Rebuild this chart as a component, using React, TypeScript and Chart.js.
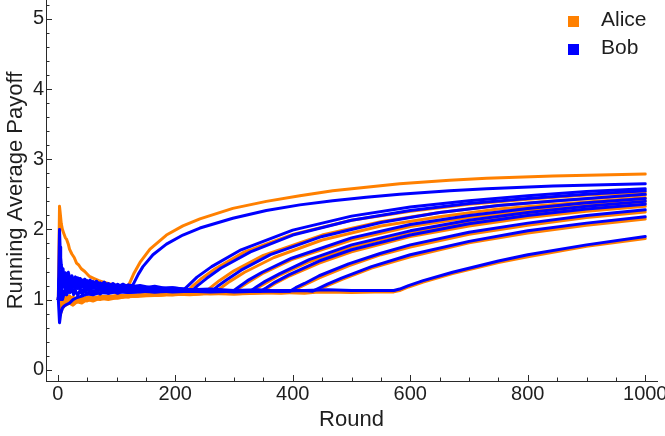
import React, { useEffect, useRef } from "react";
import { Chart, registerables } from "chart.js";

Chart.register(...registerables);

type Pt = [number, number];

// ---------- data (round, running average payoff) ----------
const seriesNames = ["Alice", "Bob"];
const xTickValues = [0, 200, 400, 600, 800, 1000];
const yTickValues = [0, 1, 2, 3, 4, 5];

const alice1: Pt[] = [[1,1.0],[3,2.33],[4,2.25],[6,2.08],[8,2.0],[10,1.95],[13,1.88],[15,1.86],[18,1.79],[20,1.72],[24,1.65],[28,1.6],[32,1.52],[36,1.49],[40,1.44],[46,1.4],[54,1.33],[62,1.3],[70,1.27],[78,1.25],[86,1.23],[95,1.21],[105,1.2],[113,1.19],[121,1.21],[130,1.38],[140,1.53],[157,1.72],[185,1.92],[213,2.05],[242,2.15],[298,2.3],[355,2.4],[412,2.48],[468,2.55],[525,2.6],[582,2.65],[667,2.7],[730,2.73],[843,2.76],[1000,2.79]];
const alice2: Pt[] = [[1,1.0],[3,1.0],[5,1.0],[8,0.88],[11,0.91],[15,0.93],[20,0.95],[26,1.0],[33,0.97],[41,1.0],[50,1.02],[60,1.0],[72,1.03],[86,1.02],[102,1.05],[120,1.04],[140,1.06],[165,1.07],[195,1.09],[218,1.1],[228,1.18],[243,1.29],[268,1.44],[318,1.68],[400,1.93],[500,2.13],[600,2.26],[700,2.36],[800,2.43],[900,2.49],[1000,2.53]];
const alice3: Pt[] = [[1,1.0],[3,1.0],[5,1.0],[8,1.12],[11,1.0],[15,0.93],[20,0.95],[26,0.92],[33,0.97],[41,0.95],[50,1.0],[60,0.98],[72,1.02],[86,1.0],[102,1.03],[120,1.04],[140,1.05],[165,1.07],[195,1.08],[225,1.09],[250,1.1],[260,1.17],[275,1.27],[300,1.41],[350,1.63],[450,1.92],[550,2.11],[650,2.24],[750,2.34],[850,2.41],[1000,2.49]];
const alice4: Pt[] = [[1,1.0],[3,1.0],[5,1.2],[8,1.0],[11,1.09],[15,1.0],[20,1.05],[26,0.96],[33,1.0],[41,0.98],[50,1.02],[60,1.0],[72,1.04],[86,1.03],[102,1.06],[120,1.05],[140,1.06],[165,1.08],[195,1.07],[225,1.09],[268,1.1],[278,1.17],[293,1.26],[318,1.39],[368,1.6],[450,1.85],[550,2.05],[650,2.18],[750,2.29],[850,2.36],[1000,2.45]];
const alice5: Pt[] = [[1,1.0],[3,1.33],[5,1.0],[8,1.12],[11,1.0],[15,1.07],[20,1.0],[26,1.04],[33,0.97],[41,1.02],[50,1.0],[60,1.03],[72,1.02],[86,1.05],[102,1.04],[120,1.06],[140,1.07],[165,1.06],[195,1.08],[225,1.08],[260,1.09],[298,1.1],[308,1.16],[323,1.24],[348,1.37],[398,1.57],[500,1.85],[600,2.04],[700,2.17],[800,2.27],[900,2.35],[1000,2.41]];
const alice6: Pt[] = [[1,1.0],[3,1.0],[5,1.0],[8,0.88],[11,1.0],[15,0.93],[20,1.0],[26,0.96],[33,1.03],[41,0.98],[50,1.02],[60,1.0],[72,1.04],[86,1.02],[102,1.05],[120,1.04],[140,1.06],[165,1.07],[195,1.07],[225,1.08],[260,1.09],[300,1.09],[328,1.1],[338,1.16],[353,1.23],[378,1.35],[428,1.54],[500,1.75],[600,1.96],[700,2.1],[800,2.22],[900,2.3],[1000,2.37]];
const alice7: Pt[] = [[1,1.0],[3,1.0],[5,0.8],[8,0.88],[11,0.91],[15,1.0],[20,0.95],[26,1.0],[33,0.97],[41,1.02],[50,1.0],[60,1.03],[72,1.01],[86,1.04],[102,1.03],[120,1.05],[140,1.05],[165,1.06],[195,1.08],[225,1.07],[260,1.09],[300,1.08],[345,1.1],[355,1.15],[370,1.23],[395,1.34],[445,1.52],[500,1.68],[600,1.9],[700,2.05],[800,2.17],[900,2.26],[1000,2.33]];
const alice8: Pt[] = [[1,1.0],[3,1.0],[5,1.0],[8,1.0],[11,1.09],[15,1.0],[20,1.05],[26,1.0],[33,1.03],[41,1.0],[50,1.04],[60,1.02],[72,1.05],[86,1.04],[102,1.06],[120,1.05],[140,1.07],[165,1.06],[195,1.08],[225,1.09],[260,1.08],[300,1.09],[340,1.1],[380,1.09],[395,1.1],[405,1.15],[420,1.21],[445,1.31],[495,1.48],[550,1.64],[600,1.75],[700,1.93],[800,2.06],[900,2.17],[1000,2.25]];
const alice9: Pt[] = [[1,1.0],[3,1.0],[5,1.2],[8,1.0],[11,0.91],[15,0.93],[20,1.0],[26,0.96],[33,1.0],[41,0.98],[50,1.02],[60,1.0],[72,1.03],[86,1.02],[102,1.05],[120,1.04],[140,1.06],[165,1.07],[195,1.07],[225,1.08],[260,1.09],[300,1.08],[340,1.09],[380,1.1],[420,1.09],[434,1.1],[444,1.14],[459,1.2],[484,1.29],[534,1.45],[600,1.61],[700,1.81],[800,1.95],[900,2.06],[1000,2.15]];
const alice10: Pt[] = [[1,1.0],[3,1.33],[5,1.2],[8,1.0],[11,1.09],[15,1.0],[20,0.95],[26,1.0],[33,0.97],[41,1.0],[50,0.98],[60,1.02],[72,1.0],[86,1.03],[102,1.02],[120,1.05],[140,1.06],[165,1.07],[195,1.08],[225,1.08],[260,1.09],[300,1.09],[340,1.1],[380,1.1],[420,1.1],[460,1.11],[500,1.1],[540,1.11],[572,1.11],[582,1.13],[597,1.18],[622,1.25],[672,1.37],[750,1.53],[800,1.61],[900,1.76],[1000,1.87]];

const bob1: Pt[] = [[1,1.0],[3,2.0],[4,1.75],[5,1.6],[6,1.5],[8,1.38],[10,1.3],[12,1.33],[15,1.27],[19,1.3],[24,1.24],[30,1.28],[36,1.22],[43,1.25],[51,1.2],[60,1.23],[70,1.18],[80,1.21],[92,1.17],[105,1.19],[118,1.18],[128,1.21],[137,1.36],[145,1.47],[162,1.64],[185,1.79],[213,1.92],[242,2.02],[298,2.16],[355,2.27],[412,2.35],[468,2.41],[525,2.46],[582,2.5],[667,2.55],[730,2.58],[843,2.62],[1000,2.65]];
const bob2: Pt[] = [[1,1.0],[3,1.33],[5,1.2],[7,1.29],[9,1.22],[11,1.36],[13,1.23],[15,1.33],[18,1.22],[21,1.3],[24,1.21],[27,1.3],[30,1.24],[34,1.31],[38,1.22],[42,1.28],[46,1.21],[50,1.27],[55,1.2],[60,1.26],[66,1.19],[72,1.24],[79,1.18],[86,1.23],[94,1.18],[102,1.22],[111,1.17],[120,1.21],[140,1.16],[165,1.19],[195,1.14],[212,1.12],[222,1.2],[237,1.32],[262,1.47],[312,1.71],[400,1.99],[500,2.19],[600,2.32],[700,2.41],[800,2.48],[900,2.54],[1000,2.58]];
const bob3: Pt[] = [[1,1.0],[3,1.0],[5,1.2],[7,1.14],[9,1.33],[11,1.18],[13,1.31],[15,1.2],[18,1.28],[21,1.19],[24,1.29],[27,1.19],[30,1.25],[34,1.17],[38,1.27],[42,1.18],[46,1.24],[50,1.16],[55,1.23],[60,1.16],[66,1.22],[72,1.15],[79,1.21],[86,1.15],[94,1.2],[102,1.15],[111,1.19],[120,1.15],[140,1.18],[165,1.14],[195,1.16],[228,1.12],[238,1.2],[253,1.3],[278,1.45],[328,1.68],[400,1.92],[500,2.13],[600,2.27],[700,2.37],[800,2.44],[900,2.5],[1000,2.55]];
const bob4: Pt[] = [[1,1.0],[3,1.33],[5,1.4],[7,1.29],[9,1.44],[11,1.27],[13,1.38],[15,1.27],[18,1.35],[21,1.26],[24,1.34],[27,1.25],[30,1.32],[34,1.24],[38,1.3],[42,1.23],[46,1.29],[50,1.22],[55,1.28],[60,1.21],[66,1.26],[72,1.2],[79,1.25],[86,1.19],[94,1.23],[102,1.18],[111,1.22],[120,1.18],[140,1.2],[165,1.16],[195,1.17],[225,1.14],[262,1.12],[272,1.19],[287,1.28],[312,1.42],[362,1.64],[450,1.9],[550,2.1],[650,2.24],[750,2.34],[850,2.41],[1000,2.5]];
const bob5: Pt[] = [[1,1.0],[3,1.0],[5,1.0],[8,1.12],[11,1.09],[15,1.2],[20,1.15],[26,1.23],[33,1.16],[41,1.2],[50,1.14],[60,1.18],[72,1.13],[86,1.16],[102,1.12],[120,1.14],[140,1.12],[165,1.14],[195,1.12],[225,1.13],[260,1.12],[298,1.12],[308,1.18],[323,1.27],[348,1.39],[398,1.59],[500,1.88],[600,2.07],[700,2.2],[800,2.3],[900,2.38],[1000,2.44]];
const bob6: Pt[] = [[1,1.0],[3,1.33],[5,1.2],[7,1.0],[9,1.11],[11,1.09],[13,1.15],[15,1.07],[18,1.17],[21,1.1],[24,1.17],[27,1.07],[30,1.13],[34,1.06],[38,1.13],[42,1.07],[46,1.14],[50,1.08],[55,1.13],[60,1.08],[66,1.12],[72,1.08],[79,1.13],[86,1.09],[94,1.12],[102,1.09],[111,1.12],[120,1.1],[140,1.11],[165,1.13],[195,1.11],[225,1.12],[260,1.11],[300,1.12],[328,1.12],[338,1.18],[353,1.26],[378,1.37],[428,1.57],[500,1.78],[600,1.98],[700,2.13],[800,2.24],[900,2.33],[1000,2.4]];
const bob7: Pt[] = [[1,1.0],[3,1.0],[5,1.2],[7,1.29],[9,1.22],[11,1.27],[13,1.15],[15,1.27],[18,1.17],[21,1.24],[24,1.13],[27,1.22],[30,1.17],[34,1.24],[38,1.16],[42,1.21],[46,1.15],[50,1.22],[55,1.16],[60,1.2],[66,1.14],[72,1.19],[79,1.15],[86,1.18],[94,1.14],[102,1.17],[111,1.14],[120,1.16],[140,1.13],[165,1.15],[195,1.12],[225,1.14],[260,1.12],[300,1.13],[345,1.12],[355,1.17],[370,1.25],[395,1.36],[445,1.55],[500,1.71],[600,1.92],[700,2.08],[800,2.2],[900,2.29],[1000,2.36]];
const bob8: Pt[] = [[1,1.0],[3,1.0],[5,1.0],[8,1.0],[11,1.09],[15,1.07],[20,1.15],[26,1.12],[33,1.18],[41,1.13],[50,1.16],[60,1.12],[72,1.15],[86,1.12],[102,1.14],[120,1.12],[140,1.13],[165,1.11],[195,1.13],[225,1.12],[260,1.13],[300,1.11],[340,1.12],[380,1.12],[395,1.12],[405,1.17],[420,1.23],[445,1.34],[495,1.51],[550,1.66],[600,1.78],[700,1.96],[800,2.09],[900,2.2],[1000,2.28]];
const bob9: Pt[] = [[1,1.0],[3,1.33],[5,1.2],[7,1.43],[9,1.33],[11,1.27],[13,1.38],[15,1.33],[18,1.39],[21,1.29],[24,1.33],[27,1.26],[30,1.32],[34,1.25],[38,1.3],[42,1.24],[46,1.29],[50,1.22],[55,1.27],[60,1.23],[66,1.26],[72,1.2],[79,1.24],[86,1.19],[94,1.22],[102,1.17],[111,1.2],[120,1.17],[140,1.18],[165,1.15],[195,1.17],[225,1.14],[260,1.15],[300,1.13],[340,1.14],[380,1.12],[420,1.13],[434,1.12],[444,1.16],[459,1.22],[484,1.31],[534,1.47],[600,1.64],[700,1.83],[800,1.98],[900,2.09],[1000,2.18]];
const bob10: Pt[] = [[1,1.0],[3,0.67],[5,0.8],[8,0.88],[11,0.91],[15,0.93],[20,0.95],[26,1.0],[33,1.03],[41,1.05],[50,1.08],[60,1.07],[72,1.1],[86,1.09],[102,1.11],[120,1.1],[140,1.12],[165,1.11],[195,1.12],[225,1.13],[260,1.12],[300,1.13],[340,1.12],[380,1.13],[420,1.13],[460,1.14],[500,1.13],[540,1.13],[572,1.13],[582,1.15],[597,1.2],[622,1.27],[672,1.39],[750,1.55],[800,1.64],[900,1.78],[1000,1.9]];

const aliceRuns = [alice1, alice2, alice3, alice4, alice5, alice6, alice7, alice8, alice9, alice10];
const bobRuns = [bob1, bob2, bob3, bob4, bob5, bob6, bob7, bob8, bob9, bob10];

// ---------- styles ----------
const ALICE_COLOR = "#FF8000";
const BOB_COLOR = "#0000FF";
const TEXT_COLOR = "#1e1e1e";
const AXIS_COLOR = "#2a2a2a";
const FONT = "'Liberation Sans', Arial, Helvetica, sans-serif";

const frameTicksPlugin = {
  id: "frameTicks",
  afterDatasetsDraw(chart: any) {
    const { ctx, chartArea, scales } = chart;
    const xs = scales.x;
    const ys = scales.y;
    ctx.save();
    ctx.strokeStyle = AXIS_COLOR;
    ctx.lineWidth = 1;
    ctx.beginPath();
    for (let i = 0; i <= 30; i++) {
      const v = i * 0.2;
      if (v > ys.max) break;
      const y = Math.round(ys.getPixelForValue(v)) + 0.5;
      const len = i % 5 === 0 ? 6 : 3.5;
      ctx.moveTo(chartArea.left, y);
      ctx.lineTo(chartArea.left + len, y);
    }
    for (let i = 0; i <= 20; i++) {
      const v = i * 50;
      if (v > xs.max) break;
      const x = Math.round(xs.getPixelForValue(v)) + 0.5;
      const len = i % 4 === 0 ? 6 : 3.5;
      ctx.moveTo(x, chartArea.bottom);
      ctx.lineTo(x, chartArea.bottom - len);
    }
    ctx.stroke();
    ctx.restore();
  },
};

const legendPlugin = {
  id: "plotLegend",
  afterDraw(chart: any) {
    const { ctx, chartArea } = chart;
    const colors = [ALICE_COLOR, BOB_COLOR];
    const sqX = chartArea.right - 89;
    const textX = chartArea.right - 56;
    ctx.save();
    ctx.font = `21px ${FONT}`;
    ctx.textBaseline = "alphabetic";
    ctx.textAlign = "left";
    seriesNames.forEach((name, i) => {
      const base = 26 + i * 28;
      ctx.fillStyle = colors[i];
      ctx.fillRect(sqX, base - 10, 11, 11);
      ctx.fillStyle = TEXT_COLOR;
      ctx.fillText(name, textX, base);
    });
    ctx.restore();
  },
};

export default function App() {
  const canvasRef = useRef<HTMLCanvasElement | null>(null);

  useEffect(() => {
    document.body.style.margin = "0";
    const canvas = canvasRef.current;
    if (!canvas) return;

    const lineStyle = (color: string) => ({
      borderColor: color,
      backgroundColor: color,
      borderWidth: 3,
      pointRadius: 0,
      pointHoverRadius: 0,
      fill: false,
      tension: 0,
      borderJoinStyle: "round" as const,
      borderCapStyle: "round" as const,
    });

    const datasets = [
      ...bobRuns.map((d, i) => ({ label: `${seriesNames[1]} ${i + 1}`, data: d, ...lineStyle(BOB_COLOR) })),
      ...aliceRuns.map((d, i) => ({ label: `${seriesNames[0]} ${i + 1}`, data: d, ...lineStyle(ALICE_COLOR) })),
    ];

    const chart = new Chart(canvas, {
      type: "line",
      data: { datasets: datasets as any },
      options: {
        animation: false,
        responsive: false,
        devicePixelRatio: 1,
        layout: { padding: { top: 0, right: 8, bottom: 0, left: 0 } },
        plugins: {
          legend: { display: false },
          tooltip: { enabled: false },
        },
        events: [],
        scales: {
          x: {
            type: "linear",
            min: -20,
            max: 1020,
            afterBuildTicks: (s: any) => {
              s.ticks = xTickValues.map((v) => ({ value: v }));
            },
            afterFit: (s: any) => {
              s.height = 55;
              s.paddingLeft = 0;
              s.paddingRight = 0;
            },
            ticks: {
              autoSkip: false,
              maxRotation: 0,
              padding: 1,
              color: TEXT_COLOR,
              font: { family: FONT, size: 20 },
              callback: (v: any) => String(v),
            },
            grid: { display: false, drawTicks: false },
            border: { display: true, color: AXIS_COLOR, width: 1 },
            title: {
              display: true,
              text: "Round",
              color: TEXT_COLOR,
              font: { family: FONT, size: 22 },
              padding: { top: 0, bottom: 3 },
            },
          },
          y: {
            type: "linear",
            min: -0.16,
            max: 5.27,
            afterBuildTicks: (s: any) => {
              s.ticks = yTickValues.map((v) => ({ value: v }));
            },
            afterFit: (s: any) => {
              s.width = 46;
              s.paddingTop = 0;
              s.paddingBottom = 0;
            },
            ticks: {
              autoSkip: false,
              padding: 2,
              color: TEXT_COLOR,
              font: { family: FONT, size: 20 },
              callback: (v: any) => String(v),
            },
            grid: { display: false, drawTicks: false },
            border: { display: true, color: AXIS_COLOR, width: 1 },
            title: {
              display: true,
              text: "Running Average Payoff",
              color: TEXT_COLOR,
              font: { family: FONT, size: 22 },
              padding: { top: 3, bottom: 0 },
            },
          },
        },
      } as any,
      plugins: [frameTicksPlugin, legendPlugin],
    });

    return () => {
      chart.destroy();
    };
  }, []);

  return (
    <div style={{ width: 665, height: 436, position: "relative", background: "#fff" }}>
      <canvas ref={canvasRef} width={665} height={436} style={{ display: "block" }} />
    </div>
  );
}
